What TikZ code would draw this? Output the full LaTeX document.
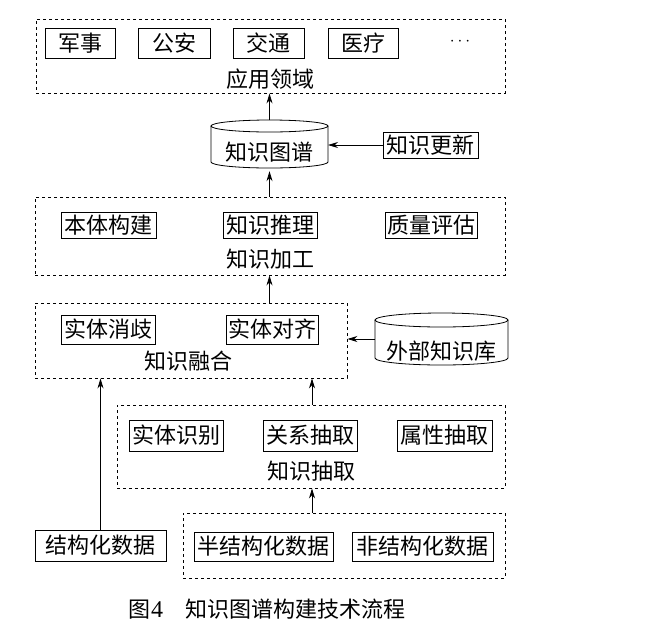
\documentclass[tikz,border=0pt]{standalone}
\usepackage{fontspec}
\newfontfamily\cjk{Noto Sans CJK SC}
\usetikzlibrary{arrows.meta}
\begin{document}
\begin{tikzpicture}[x=1pt,y=-1pt,
  every node/.style={font=\cjk\fontsize{22}{25}\selectfont, inner sep=0pt},
  itembox/.style={draw, line width=0.8pt, minimum height=#1},
  itembox/.default=29,
  group/.style={draw, line width=0.9pt, dash pattern=on 3pt off 3pt},
  arr/.style={line width=0.8pt, -{Stealth[length=10pt,width=6pt]}},
  cyl/.style={line width=0.8pt}]
\useasboundingbox (0,0) rectangle (668,635);

% application domain
\node[group, minimum width=469, minimum height=74] (app) at (270.5,56) {};
\node[itembox=30, minimum width=70] (mil) at (80,43) {军事};
\node[itembox=30, minimum width=72] (pol) at (174,43) {公安};
\node[itembox=30, minimum width=71] (tra) at (268.5,43) {交通};
\node[itembox=30, minimum width=70] (med) at (363,43) {医疗};
\node[font=\fontsize{18}{20}\selectfont] (dots) at (460,42) {$\cdots$};
\node (appl) at (270,79) {应用领域};

% knowledge graph cylinder
\node[minimum width=117, minimum height=48] (kg) at (269.5,147) {};
\node (kgt) at (269.5,152) {知识图谱};
\draw[cyl] (269.5,126) ellipse[x radius=58.5, y radius=6];
\draw[cyl] (211,126) -- (211,162) arc[start angle=180, end angle=0, x radius=58.5, y radius=6] -- (328,126);

\node[itembox=26, minimum width=95] (upd) at (430.5,145) {知识更新};

% processing
\node[group, minimum width=470, minimum height=78] (proc) at (270,236) {};
\node[itembox=26, minimum width=95] (ont) at (108.5,225) {本体构建};
\node[itembox=26, minimum width=94] (inf) at (270,225) {知识推理};
\node[itembox=26, minimum width=92] (qua) at (431,225) {质量评估};
\node (procl) at (270,259) {知识加工};

% fusion
\node[group, minimum width=312, minimum height=75] (fus) at (191,340.5) {};
\node[itembox=29, minimum width=94] (dis) at (108,329.5) {实体消歧};
\node[itembox=29, minimum width=92] (ali) at (272,329.5) {实体对齐};
\node (fusl) at (188,361) {知识融合};

% external KB cylinder
\node[minimum width=133, minimum height=52] (ext) at (441.5,339) {};
\node (extt) at (441.5,351) {外部知识库};
\draw[cyl] (441.5,320) ellipse[x radius=66.5, y radius=7];
\draw[cyl] (375,320) -- (375,358) arc[start angle=180, end angle=0, x radius=66.5, y radius=7] -- (508,320);

% extraction
\node[group, minimum width=388, minimum height=83] (ext2) at (311,446.5) {};
\node[itembox=31, minimum width=94] (ent) at (176,435.5) {实体识别};
\node[itembox=31, minimum width=94] (rel) at (310,435.5) {关系抽取};
\node[itembox=31, minimum width=95] (att) at (444.5,435.5) {属性抽取};
\node (ext2l) at (311,471) {知识抽取};

% sources
\node[group, minimum width=322, minimum height=65] (src) at (344,545.5) {};
\node[itembox=29, minimum width=139] (semi) at (263.5,546.5) {半结构化数据};
\node[itembox=29, minimum width=141] (unst) at (422.5,546.5) {非结构化数据};
\node[itembox=31, minimum width=131] (stru) at (100.5,545.5) {结构化数据};

% caption
\node[anchor=west] (cap) at (128,609) {图\hspace{1pt}{\fontspec{Liberation Serif}\fontsize{24}{28}\selectfont 4}\hspace{22pt}知识图谱构建技术流程};

% helper coordinates
\coordinate (cx) at (269.5,0);
\coordinate (ex) at (312,0);
\coordinate (kgtop) at (269.5,120);
\coordinate (kgright) at (328,145);

% arrows
\draw[arr] (kgtop) -- (cx |- app.south);
\draw[arr] (upd.west) -- (kgright);
\draw[arr] (cx |- proc.north) -- (kg.south);
\draw[arr] (cx |- fus.north) -- (cx |- proc.south);
\draw[arr] (ext.west) -- (ext.west -| fus.east);
\draw[arr] (ex |- ext2.north) -- (ex |- fus.south);
\draw[arr] (stru.north) -- (stru.north |- fus.south);
\draw[arr] (ex |- src.north) -- (ex |- ext2.south);
\end{tikzpicture}
\end{document}
